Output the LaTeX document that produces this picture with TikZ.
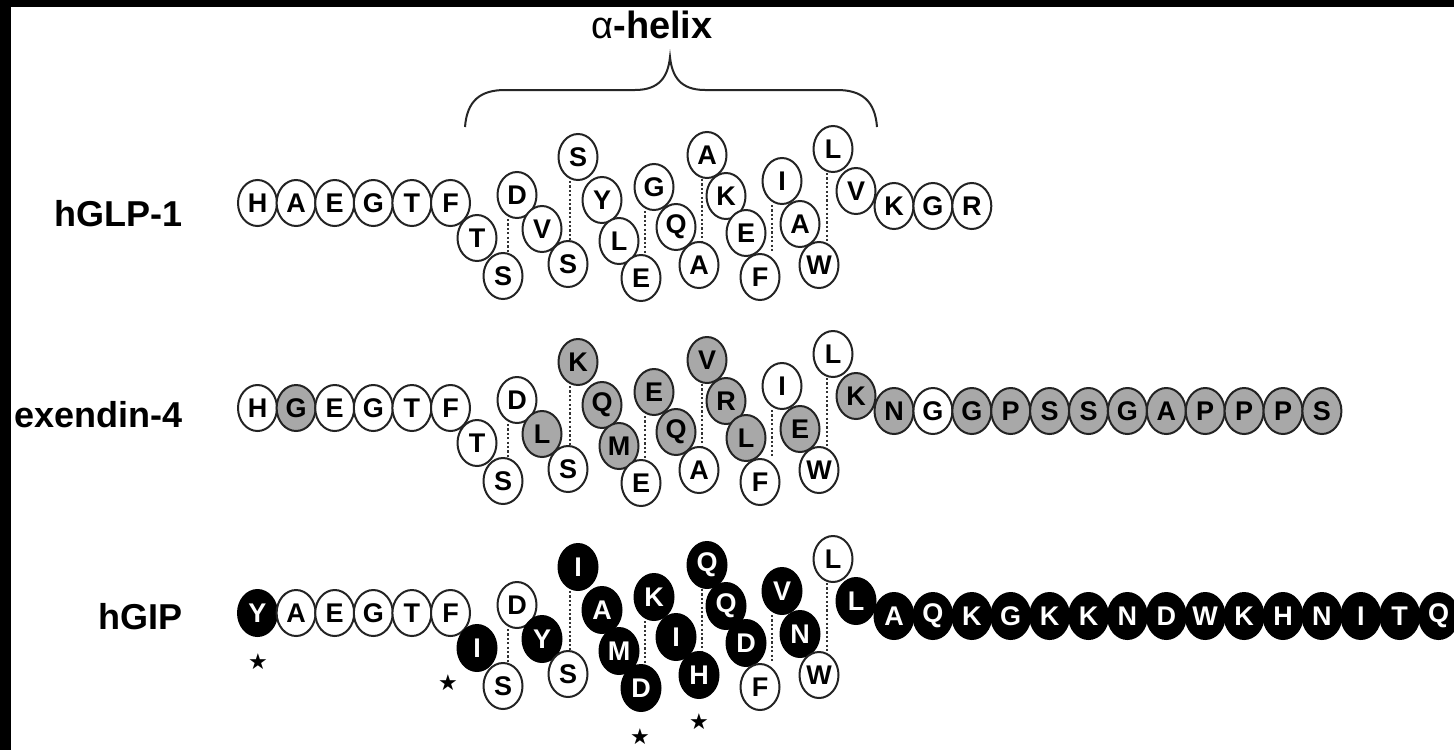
\documentclass[tikz,border=0pt]{standalone}
\usepackage{fontspec}
\setmainfont{Liberation Sans}
\newfontfamily\djv{DejaVu Sans}
\usetikzlibrary{shapes.geometric,calc,backgrounds}
\definecolor{exgray}{RGB}{168,168,168}
\definecolor{rim}{RGB}{35,35,35}
\begin{document}
\begin{tikzpicture}[x={(0.5pt,0pt)},y={(0pt,-0.5pt)},
 res/.style={ellipse, minimum width=19.5pt, minimum height=23pt, inner sep=0pt, draw=rim, line width=1pt, font=\fontsize{13.5}{13.5}\selectfont\bfseries},
 wt/.style={res, fill=white},
 gr/.style={res, fill=exgray},
 bk/.style={res, fill=black, draw=black, text=white},
 hb/.style={draw=black!80, line width=1.2pt, dash pattern=on 1.1pt off 1.1pt},
 lab/.style={anchor=base east, inner sep=0pt, font=\fontsize{18}{18}\selectfont\bfseries},
 starmark/.style={inner sep=0pt, font=\djv\fontsize{11}{11}\selectfont},
 bracel/.style={draw=black!85, line width=1pt}]
\useasboundingbox (0,0) rectangle (1454,750);
% base positions of the residues (hGLP-1 row)
\foreach \i/\x/\y in {1/257.5/203, 2/296.1/203, 3/334.7/203, 4/373.3/203, 5/411.9/203, 6/450.5/203,
  7/477/238, 8/503/276, 9/517/195, 10/542/229, 11/568/264, 12/578/157, 13/602/200, 14/619/241,
  15/641/278, 16/654/187, 17/676/227, 18/699/265, 19/707/155, 20/726/196, 21/746/233, 22/760/277,
  23/782/181, 24/800/224, 25/819/265, 26/833/149, 27/856/191}
  \coordinate (c\i) at (\x,\y);
\foreach \i in {28,...,42}
  \coordinate (c\i) at ({894+38.9*(\i-28)},206);

% labels
\node[lab] (lglp) at (183,226) {hGLP-1};
\node[lab] (lexe) at (183,427) {exendin-4};
\node[lab] (lgip) at (183,629) {hGIP};

% alpha-helix brace
\node[anchor=base, inner sep=0pt, font=\fontsize{19}{19}\selectfont\bfseries] (ahx) at (652,38) {{\mdseries α}-helix};
\coordinate (bl) at (465,127);
\coordinate (bt) at (670,57);
\coordinate (br) at (877,127);
\draw[bracel] (bl) .. controls (467,101) and (480,90) .. (505,90) -- (635,90)
  .. controls (660,90) and (668,76) .. (bt)
  .. controls (672,76) and (680,90) .. (705,90) -- (837,90)
  .. controls (862,90) and (875,101) .. (br);

% hGLP-1
\foreach \i/\a/\s in {1/H/wt,2/A/wt,3/E/wt,4/G/wt,5/T/wt,6/F/wt,7/T/wt,8/S/wt,9/D/wt,10/V/wt,
  11/S/wt,12/S/wt,13/Y/wt,14/L/wt,15/E/wt,16/G/wt,17/Q/wt,18/A/wt,19/A/wt,20/K/wt,21/E/wt,
  22/F/wt,23/I/wt,24/A/wt,25/W/wt,26/L/wt,27/V/wt,28/K/wt,29/G/wt,30/R/wt}
  \node[\s] (g\i) at (c\i) {\a};

% exendin-4
\foreach \i/\a/\s in {1/H/wt,2/G/gr,3/E/wt,4/G/wt,5/T/wt,6/F/wt,7/T/wt,8/S/wt,9/D/wt,10/L/gr,
  11/S/wt,12/K/gr,13/Q/gr,14/M/gr,15/E/wt,16/E/gr,17/Q/gr,18/A/wt,19/V/gr,20/R/gr,21/L/gr,
  22/F/wt,23/I/wt,24/E/gr,25/W/wt,26/L/wt,27/K/gr,28/N/gr,29/G/wt,30/G/gr,31/P/gr,32/S/gr,
  33/S/gr,34/G/gr,35/A/gr,36/P/gr,37/P/gr,38/P/gr,39/S/gr}
  \node[\s] (e\i) at ([shift={(0,205)}]c\i) {\a};

% hGIP
\foreach \i/\a/\s in {1/Y/bk,2/A/wt,3/E/wt,4/G/wt,5/T/wt,6/F/wt,7/I/bk,8/S/wt,9/D/wt,10/Y/bk,
  11/S/wt,12/I/bk,13/A/bk,14/M/bk,15/D/bk,16/K/bk,17/I/bk,18/H/bk,19/Q/bk,20/Q/bk,21/D/bk,
  22/F/wt,23/V/bk,24/N/bk,25/W/wt,26/L/wt,27/L/bk,28/A/bk,29/Q/bk,30/K/bk,31/G/bk,32/K/bk,
  33/K/bk,34/N/bk,35/D/bk,36/W/bk,37/K/bk,38/H/bk,39/N/bk,40/I/bk,41/T/bk,42/Q/bk}
  \node[\s] (p\i) at ([shift={(0,410)}]c\i) {\a};

% stars
\node[starmark] (s1) at (258,662) {★};
\node[starmark] (s2) at (448,683) {★};
\node[starmark] (s3) at (640,737) {★};
\node[starmark] (s4) at (699,722) {★};

\begin{pgfonlayer}{background}
\fill[black] (0,0) rectangle (1454,750);
\fill[white] (11,7) rectangle (1454,750);
\foreach \t/\b/\f in {9/8/0.64,12/11/0.8,16/15/0.7,19/18/0.6,23/22/0.45,26/25/0.43}{
  \foreach \r in {g,e,p}{
    \coordinate (m) at ($(\r\t)!\f!(\r\b)$);
    \draw[hb] (\r\t.south -| m) -- (\r\b.north -| m);
  }
}
\end{pgfonlayer}
\end{tikzpicture}
\end{document}
